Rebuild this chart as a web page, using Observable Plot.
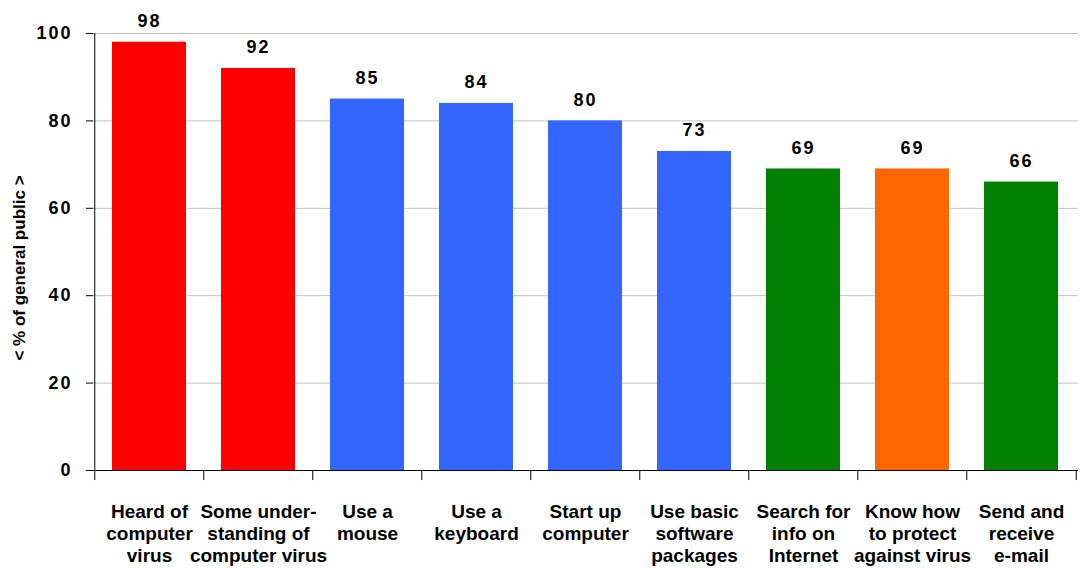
<!DOCTYPE html>
<html>
<head>
<meta charset="utf-8">
<script src="https://cdn.jsdelivr.net/npm/d3@7"></script>
<script src="https://cdn.jsdelivr.net/npm/@observablehq/plot@0.6"></script>
<style>
  html, body { margin: 0; padding: 0; background: #fff; }
  #chart svg { display: block; }
</style>
</head>
<body>
<div id="chart"></div>
<script>
const categories = [
  "Heard of\ncomputer\nvirus",
  "Some under-\nstanding of\ncomputer virus",
  "Use a\nmouse",
  "Use a\nkeyboard",
  "Start up\ncomputer",
  "Use basic\nsoftware\npackages",
  "Search for\ninfo on\nInternet",
  "Know how\nto protect\nagainst virus",
  "Send and\nreceive\ne-mail"
];
const values = [98, 92, 85, 84, 80, 73, 69, 69, 66];
const groups = ["awareness", "awareness", "skill", "skill", "skill", "skill", "internet", "protection", "internet"];
const groupNames = ["awareness", "skill", "internet", "protection"];
const groupColors = ["#ff0000", "#3366ff", "#008000", "#ff6600"];
const yTicks = [0, 20, 40, 60, 80, 100];
const yTitle = "< % of general public >";

const data = categories.map((c, i) => ({category: c, value: values[i], group: groups[i]}));

const W = 1080, H = 568;
const mL = 93, mR = 2, mT = 33, mB = 98;
const step = (W - mL - mR) / categories.length;
const font = "'Liberation Sans', Arial, sans-serif";

const chart = Plot.plot({
  width: W,
  height: H,
  marginLeft: mL,
  marginRight: mR,
  marginTop: mT,
  marginBottom: mB,
  style: {fontFamily: font, background: "#fff", overflow: "visible"},
  x: {domain: categories, paddingInner: 0.32, paddingOuter: 0.16},
  y: {domain: [0, 100]},
  color: {domain: groupNames, range: groupColors},
  marks: [
    Plot.gridY(yTicks.filter(d => d > 0), {stroke: "#c0c0c0", strokeOpacity: 1, strokeWidth: 1}),
    Plot.barY(data, {x: "category", y: "value", fill: "group"}),
    Plot.ruleY([0], {stroke: "#000", strokeWidth: 1}),
    Plot.ruleX(categories, {x: d => d, dx: -step / 2, y1: 0, y2: -2.3, stroke: "#000", clip: false}),
    Plot.ruleX(categories.slice(-1), {x: d => d, dx: step / 2, y1: 0, y2: -2.3, stroke: "#000", clip: false}),
    Plot.ruleX(categories.slice(0, 1), {x: d => d, dx: -step / 2, y1: 0, y2: 100, stroke: "#000"}),
    Plot.axisY({
      ticks: yTicks, tickSize: 7, tickPadding: 14,
      fontSize: 18, fontWeight: "bold", label: null
    }),
    Plot.text([yTitle], {
      frameAnchor: "left", textAnchor: "middle", rotate: -90, dx: -74, dy: 16,
      fontSize: 17, fontWeight: "bold", fill: "#000", text: d => d
    }),
    Plot.axisX({
      tickSize: 0, tickPadding: 32, fontSize: 19, fontWeight: "bold", lineHeight: 1.158, label: null
    }),
    Plot.text(data, {
      x: "category", y: "value", text: d => String(d.value),
      dy: -21, fontSize: 18, fontWeight: "bold", fill: "#000"
    })
  ]
});

d3.select(chart).selectAll("g[aria-label='y-axis tick label'] text")
  .style("letter-spacing", "2px");
d3.select(chart).selectAll("g[aria-label='text'] text")
  .filter(function() { return /^\d+$/.test(this.textContent); })
  .style("letter-spacing", "2px");
d3.select(chart).selectAll("g[aria-label='y-axis tick label'], g[aria-label='x-axis tick label']")
  .attr("fill", "#000");
d3.select(chart).selectAll("g[aria-label='y-axis tick']").attr("stroke", "#000");

document.getElementById("chart").appendChild(chart);
</script>
</body>
</html>
